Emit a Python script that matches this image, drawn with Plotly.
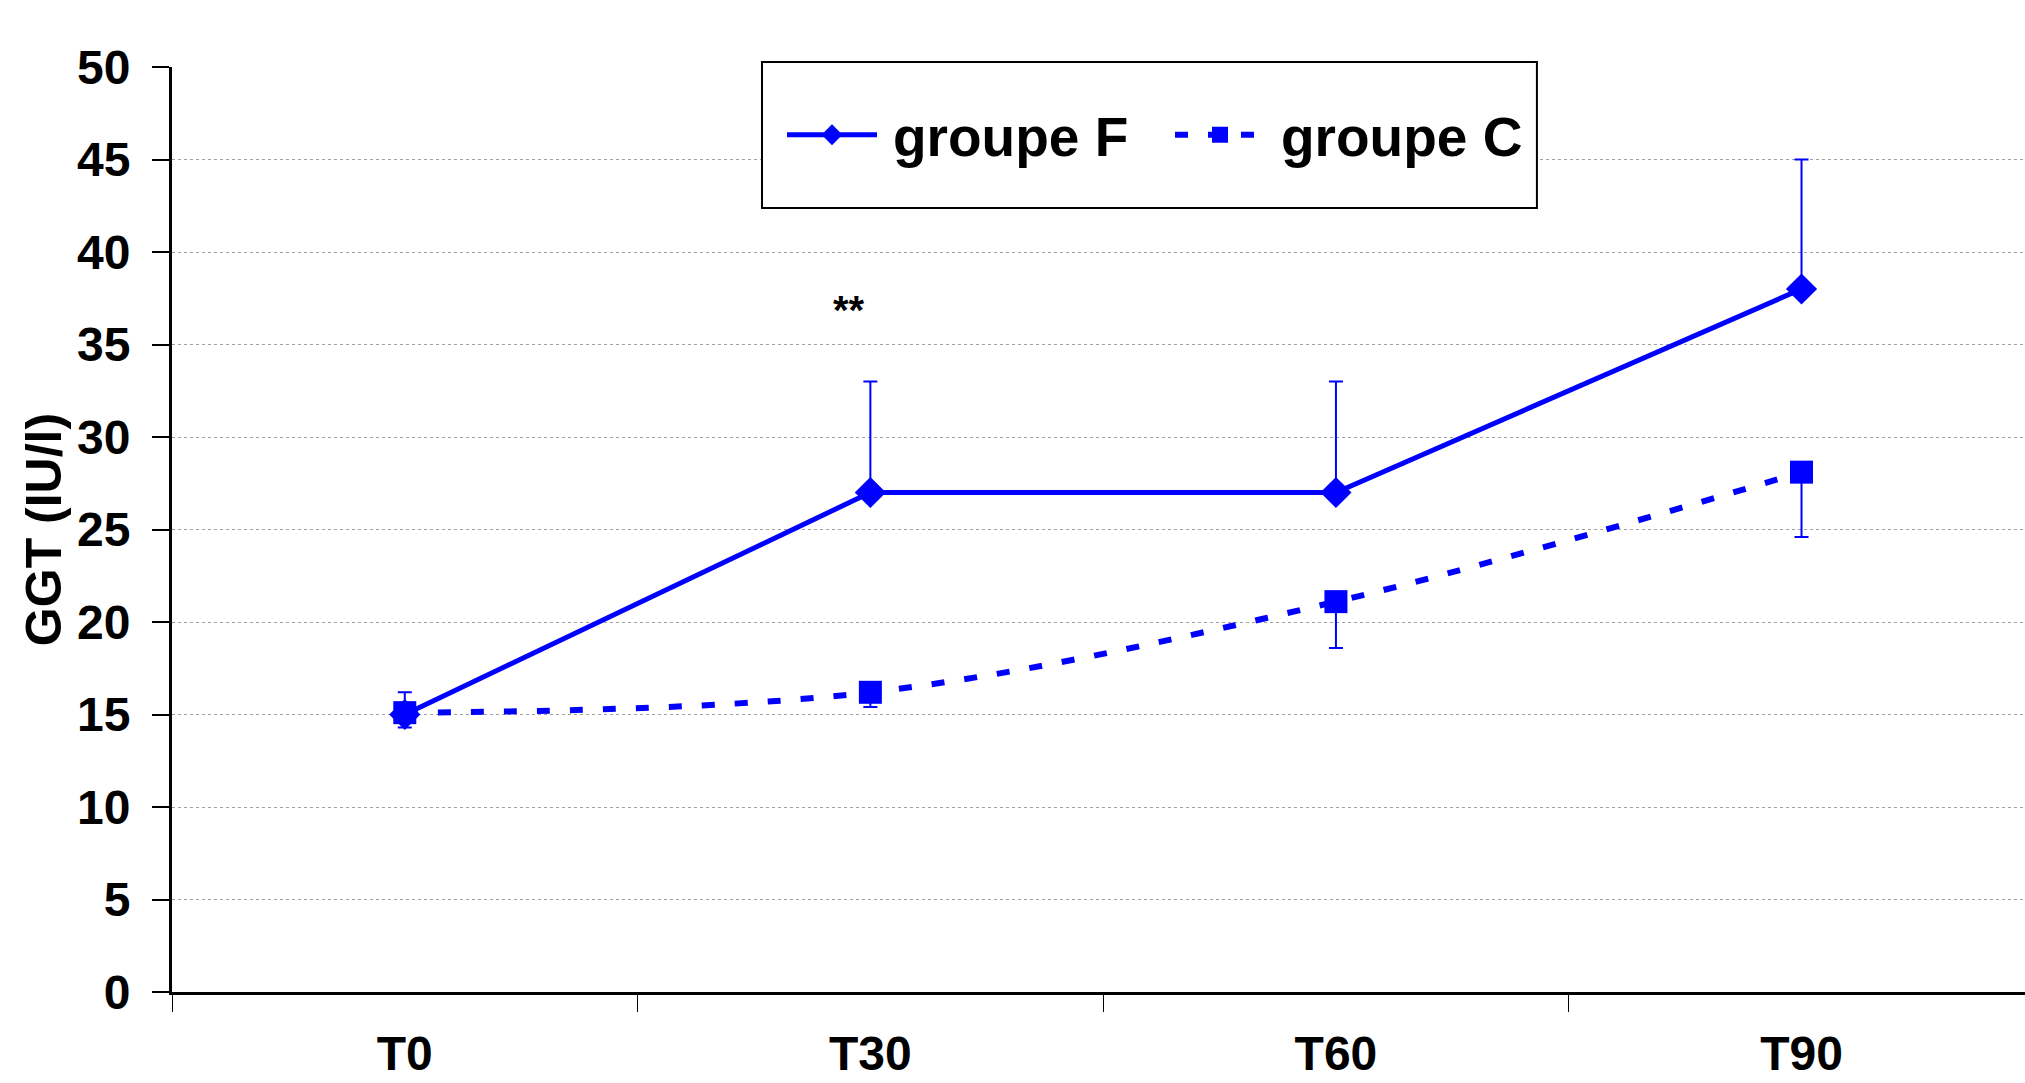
import plotly.graph_objects as go

categories = ["T0", "T30", "T60", "T90"]
groupe_f = [15.0, 27.0, 27.0, 38.0]
groupe_f_err_plus = [1.2, 6.0, 6.0, 7.0]
groupe_c = [15.1, 16.2, 21.1, 28.1]
groupe_c_err_minus = [0.8, 0.8, 2.5, 3.5]
y_ticks = [0, 5, 10, 15, 20, 25, 30, 35, 40, 45, 50]

BLUE = "#0000FF"
FONT = "Liberation Sans, Arial, sans-serif"

fig = go.Figure()

fig.add_trace(go.Scatter(
    x=categories, y=groupe_f, name="\u2009groupe F", mode="lines+markers",
    line=dict(color=BLUE, width=5),
    marker=dict(symbol="diamond", size=24, color=BLUE),
    error_y=dict(type="data", symmetric=False, array=groupe_f_err_plus,
                 arrayminus=[0] * len(groupe_f), color=BLUE, thickness=2, width=7),
))
fig.add_trace(go.Scatter(
    x=categories, y=groupe_c, name="\u2009groupe C", mode="lines+markers",
    line=dict(color=BLUE, width=6, dash="13px,20px", shape="spline", smoothing=1),
    marker=dict(symbol="square", size=23, color=BLUE),
    error_y=dict(type="data", symmetric=False, array=[0] * len(groupe_c),
                 arrayminus=groupe_c_err_minus, color=BLUE, thickness=2, width=7),
))

# legend frame
fig.add_shape(type="rect", xref="paper", yref="paper",
              x0=0.3184, x1=0.7366, y0=0.8476, y1=1.0054,
              line=dict(color="black", width=2), fillcolor="white", layer="above")

fig.add_annotation(x="T30", y=36.85, xref="x", yref="y", text="**", showarrow=False,
                   xshift=-21, yanchor="middle",
                   font=dict(family=FONT, size=40, color="black", weight="bold"))

fig.update_layout(
    width=2025, height=1083,
    margin=dict(l=172, r=0, t=67, b=91, pad=0),
    paper_bgcolor="white", plot_bgcolor="white",
    font=dict(family=FONT, color="black"),
    showlegend=True,
    legend=dict(orientation="h", x=0.3292, xanchor="left", y=0.9265, yanchor="middle",
                bgcolor="rgba(0,0,0,0)", borderwidth=0,
                font=dict(family=FONT, size=55, color="black", weight="bold"),
                itemwidth=90, itemsizing="trace", entrywidth=283),
)

fig.update_xaxes(
    type="category", range=[-0.5, 3.48], tickson="boundaries",
    ticks="outside", ticklen=17, tickwidth=1, tickcolor="black",
    showline=True, linecolor="black", linewidth=3,
    showgrid=False, zeroline=False,
    tickfont=dict(family=FONT, size=48, color="black", weight="bold"),
    ticklabelstandoff=17,
    automargin=False,
)
fig.update_yaxes(
    range=[0, 50], tickvals=y_ticks,
    ticks="outside", ticklen=17, tickwidth=2, tickcolor="black",
    showline=True, linecolor="black", linewidth=3,
    showgrid=True, gridcolor="#a0a0a0", gridwidth=1, griddash="dot",
    zeroline=False,
    tickfont=dict(family=FONT, size=48, color="black", weight="bold"),
    ticklabelstandoff=12,
    title=dict(text="GGT (IU/l)", font=dict(family=FONT, size=50, color="black", weight="bold"),
               standoff=0),
    automargin=False,
)

fig.write_html("out.html", config={"displayModeBar": False},
               post_script="document.body.style.margin='0';document.body.style.overflow='hidden';")
